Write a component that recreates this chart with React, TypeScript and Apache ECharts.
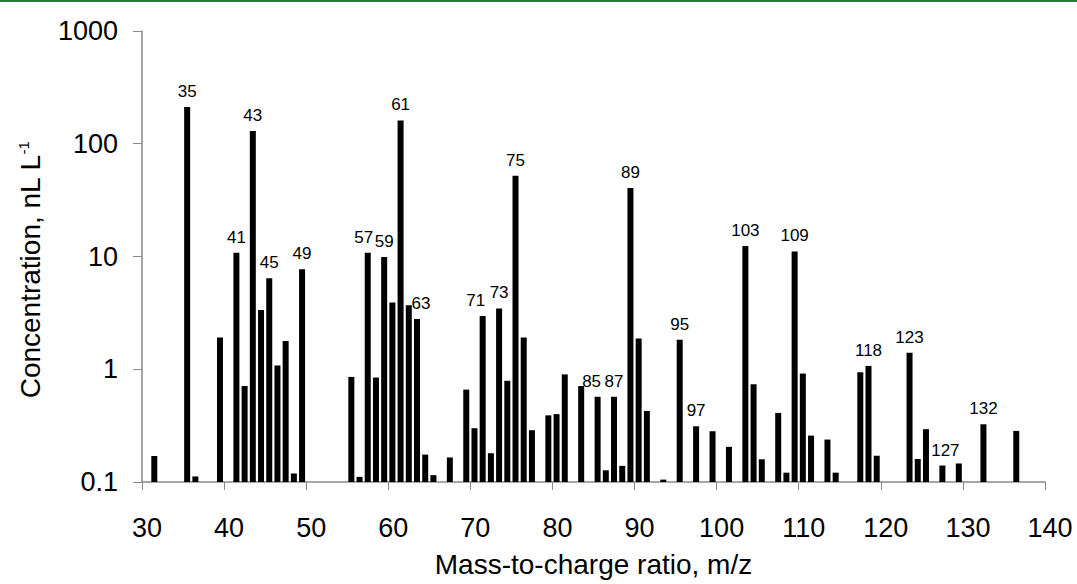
import React, { useEffect, useRef } from "react";
import * as echarts from "echarts";

const masses = [31, 35, 36, 39, 41, 42, 43, 44, 45, 46, 47, 48, 49, 55, 56, 57, 58, 59, 60, 61, 62, 63, 64, 65, 67, 69, 70, 71, 72, 73, 74, 75, 76, 77, 79, 80, 81, 83, 85, 86, 87, 88, 89, 90, 91, 93, 95, 97, 99, 101, 103, 104, 105, 107, 108, 109, 110, 111, 113, 114, 117, 118, 119, 123, 124, 125, 127, 129, 132, 136];
const concentrations = [0.17, 212, 0.112, 1.91, 10.8, 0.71, 130, 3.36, 6.4, 1.08, 1.78, 0.119, 7.7, 0.855, 0.111, 10.8, 0.844, 9.9, 3.9, 161, 3.7, 2.79, 0.175, 0.115, 0.165, 0.66, 0.30, 2.97, 0.18, 3.46, 0.79, 52, 1.91, 0.288, 0.39, 0.40, 0.90, 0.71, 0.57, 0.127, 0.57, 0.139, 40.6, 1.87, 0.427, 0.105, 1.83, 0.312, 0.282, 0.205, 12.4, 0.736, 0.159, 0.41, 0.121, 11.1, 0.916, 0.258, 0.238, 0.121, 0.94, 1.07, 0.171, 1.40, 0.16, 0.294, 0.14, 0.146, 0.325, 0.284];
const labeledMasses = [35, 41, 43, 45, 49, 57, 59, 61, 63, 71, 73, 75, 85, 87, 89, 95, 97, 103, 109, 118, 123, 127, 132];
const yTickLabels = ["0.1", "1", "10", "100", "1000"];
const yMin = 0.1;
const yMax = 1000;
const xTitle = "Mass-to-charge ratio, m/z";
const yTitle = "Concentration, nL L";
const yTitleSup = "-1";

const FONT = "'Liberation Sans', Arial, sans-serif";
const BAR_W = 6;
// small horizontal nudges of crowded labels (pixels)
const labelNudge: Record<number, number> = { 57: -4, 63: 4, 71: -7, 85: -6, 127: 3 };

export default function App() {
  const ref = useRef<HTMLDivElement>(null);
  useEffect(() => {
    if (!ref.current) return;
    const chart = echarts.init(ref.current, null, { renderer: "svg" });
    const data = masses.map((m, i) => [m + 0.5, concentrations[i], m]);
    chart.setOption({
      animation: false,
      backgroundColor: "#fff",
      textStyle: { fontFamily: FONT },
      grid: {
        left: 142,
        right: 32,
        top: 31,
        bottom: 102,
        containLabel: false,
        outerBoundsMode: "none",
      },
      xAxis: {
        type: "value",
        min: 30,
        max: 140,
        interval: 10,
        axisLine: { show: true, lineStyle: { color: "#8a8a8a", width: 1.5 } },
        axisTick: { show: true, length: 8, lineStyle: { color: "#8a8a8a" } },
        splitLine: { show: false },
        axisLabel: {
          fontSize: 27,
          color: "#000",
          margin: 32,
          fontFamily: FONT,
          padding: [0, 0, 0, 10],
        },
        name: xTitle,
        nameLocation: "middle",
        nameGap: 68,
        nameTextStyle: { fontSize: 28, color: "#000", fontFamily: FONT },
      },
      yAxis: {
        type: "log",
        logBase: 10,
        min: yMin,
        max: yMax,
        axisLine: { show: true, lineStyle: { color: "#8a8a8a", width: 1.5 } },
        axisTick: { show: true, length: 9, lineStyle: { color: "#8a8a8a" } },
        splitLine: { show: false },
        axisLabel: {
          fontSize: 27,
          color: "#000",
          margin: 24,
          fontFamily: FONT,
          formatter: (v: number) => {
            const idx = Math.round(Math.log10(v)) + 1;
            return yTickLabels[idx] ?? String(v);
          },
        },
      },
      graphic: [
        {
          type: "rect",
          left: 0,
          top: 0,
          shape: { width: 1077, height: 2 },
          style: { fill: "#2b7a3d" },
        },
        {
          type: "text",
          x: 30,
          y: 270,
          rotation: Math.PI / 2,
          style: {
            text: "{a|" + yTitle + "}{s|" + yTitleSup + "}",
            align: "center",
            verticalAlign: "middle",
            fill: "#000",
            rich: {
              a: { fontSize: 28, fontFamily: FONT, fill: "#000" },
              s: { fontSize: 15, fontFamily: FONT, fill: "#000", padding: [0, 0, 14, 0] },
            },
          },
        },
      ],
      series: [
        {
          type: "custom",
          data,
          encode: { x: 0, y: 1 },
          renderItem: (params: any, api: any) => {
            const x = api.value(0);
            const v = api.value(1);
            const m = api.value(2);
            const top = api.coord([x, v]);
            const bottom = api.coord([x, yMin]);
            const el: any = {
              type: "rect",
              shape: {
                x: top[0] - BAR_W / 2,
                y: top[1],
                width: BAR_W,
                height: bottom[1] - top[1],
              },
              style: { fill: "#000" },
            };
            if (labeledMasses.includes(m)) {
              el.textContent = {
                style: {
                  text: String(m),
                  fontSize: 17,
                  fontFamily: FONT,
                  fill: "#000",
                },
              };
              el.textConfig = { position: "top", distance: 7, offset: [labelNudge[m] || 0, 0] };
            }
            return el;
          },
        },
      ],
    });
    return () => chart.dispose();
  }, []);
  return (
    <div
      ref={ref}
      style={{ position: "fixed", left: 0, top: 0, width: 1077, height: 584, background: "#fff" }}
    />
  );
}
